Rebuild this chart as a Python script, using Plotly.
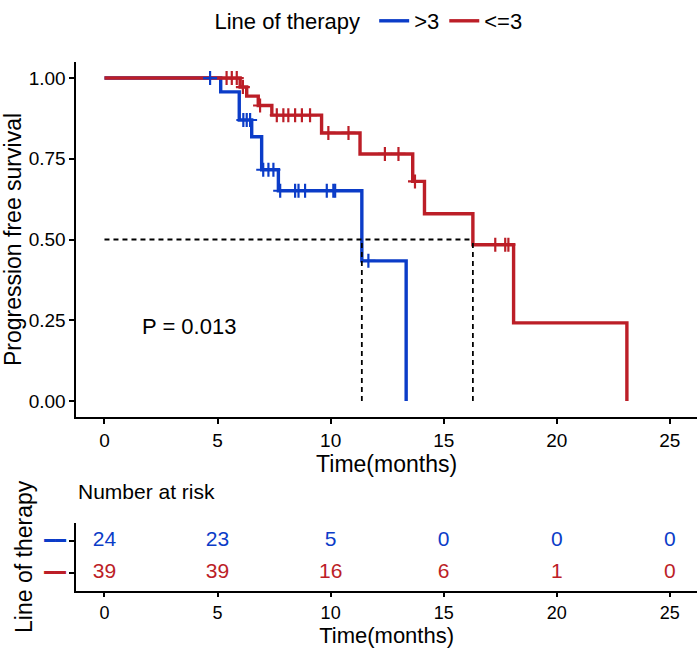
import numpy as np
import plotly.graph_objects as go

# ---------------- data ----------------
group_names = [">3", "<=3"]
group_colors = ["#0B3CC8", "#BC1E27"]

blue_step_time = [0, 5.14, 5.96, 6.51, 6.95, 7.69, 11.38, 13.34]
blue_step_surv = [1.0, 0.957, 0.870, 0.818, 0.716, 0.651, 0.434, 0.0]
blue_censor_time = [4.67, 6.14, 6.29, 6.44, 7.02, 7.25, 7.47, 7.77, 8.43,
                    8.58, 8.87, 9.83, 10.12, 10.2, 11.67]

red_step_time = [0, 6.0, 6.29, 6.8, 7.4, 9.6, 11.3, 13.63, 14.15, 16.29, 18.09, 23.1]
red_step_surv = [1.0, 0.972, 0.944, 0.915, 0.885, 0.830, 0.765, 0.680, 0.580,
                 0.484, 0.242, 0.0]
red_censor_time = [5.4, 5.63, 5.85, 6.12, 6.88, 7.62, 7.91, 8.13, 8.43, 8.73,
                   9.09, 9.9, 10.79, 12.4, 13.0, 13.73, 17.28, 17.72, 17.86]

median_time = [11.38, 16.29]
median_level = 0.5

risk_time = [0, 5, 10, 15, 20, 25]
blue_risk = [24, 23, 5, 0, 0, 0]
red_risk = [39, 39, 16, 6, 1, 0]

y_ticks = [0, 0.25, 0.5, 0.75, 1.0]
p_text = "P = 0.013"
p_pos = (3.72, 0.23)

FONT = "Liberation Sans, Arial, sans-serif"

# ---------------- figure ----------------
fig = go.Figure()

def censor_y(step_t, step_s, ct):
    idx = np.searchsorted(np.array(step_t), np.array(ct), side="right") - 1
    return list(np.array(step_s)[idx])

groups = [
    (blue_step_time, blue_step_surv, blue_censor_time),
    (red_step_time, red_step_surv, red_censor_time),
]

for (st, ss, ct), name, col in zip(groups, group_names, group_colors):
    fig.add_trace(go.Scatter(
        x=st, y=ss, mode="lines", line=dict(color=col, width=3.4, shape="hv"),
        name=name, legendgroup=name, showlegend=True, xaxis="x", yaxis="y",
        hoverinfo="skip"))

for (st, ss, ct), name, col in zip(groups, group_names, group_colors):
    fig.add_trace(go.Scatter(
        x=ct, y=censor_y(st, ss, ct), mode="markers",
        marker=dict(symbol="cross-thin", size=10, line=dict(color=col, width=2.2)),
        showlegend=False, legendgroup=name, xaxis="x", yaxis="y",
        hoverinfo="skip"))

# median dashed lines
mx, my = [0, max(median_time), None], [median_level, median_level, None]
for m in median_time:
    mx += [m, m, None]
    my += [0, median_level, None]
fig.add_trace(go.Scatter(
    x=mx, y=my, mode="lines", line=dict(color="black", width=1.8, dash="5px,4px"),
    showlegend=False, xaxis="x", yaxis="y", hoverinfo="skip"))

# risk table
for risk, yv, col in [(blue_risk, 2, group_colors[0]), (red_risk, 1, group_colors[1])]:
    fig.add_trace(go.Scatter(
        x=risk_time, y=[yv] * len(risk_time), mode="text",
        text=[str(v) for v in risk], textfont=dict(color=col, size=21, family=FONT),
        textposition="middle center", showlegend=False, xaxis="x2", yaxis="y2",
        hoverinfo="skip"))

x_dom = [76.2 / 697, 1.0]
x_rng = [-1.25, 26.2]
axis_common = dict(showline=True, linecolor="black", linewidth=1.5, ticks="outside",
                   ticklen=5, tickwidth=1.5, tickcolor="black", showgrid=False,
                   zeroline=False)
tick_font = dict(size=19, color="black", family=FONT)

fig.update_layout(
    width=697, height=649, margin=dict(l=0, r=0, t=0, b=0),
    paper_bgcolor="white", plot_bgcolor="white",
    font=dict(family=FONT, color="black"),
    xaxis=dict(domain=x_dom, range=x_rng, anchor="y", tickvals=risk_time,
               tickfont=tick_font,
               title=dict(text="Time(months)", font=dict(size=23), standoff=4),
               **axis_common),
    yaxis=dict(domain=[1 - 415 / 649, 1 - 56.4 / 649], range=[-0.05, 1.05], anchor="x",
               tickvals=y_ticks, tickformat=".2f", tickfont=tick_font,
               title=dict(text="Progression free survival", font=dict(size=23), standoff=4),
               **axis_common),
    xaxis2=dict(domain=x_dom, range=x_rng, anchor="y2", tickvals=risk_time,
                tickfont=dict(size=18, color="black", family=FONT),
                title=dict(text="Time(months)", font=dict(size=22), standoff=2),
                **axis_common),
    yaxis2=dict(domain=[1 - 590 / 649, 1 - 522 / 649], range=[0.4375, 2.5625], anchor="x2",
                tickvals=[2, 1],
                ticktext=[f'<span style="color:{group_colors[0]}">━━</span>',
                          f'<span style="color:{group_colors[1]}">━━</span>'],
                tickfont=dict(size=18, family="DejaVu Sans Mono"),
                title=dict(text="Line of therapy", font=dict(size=23), standoff=4),
                **axis_common),
    legend=dict(orientation="h", x=370 / 697, xanchor="center", y=1 - 15 / 649,
                yanchor="middle", font=dict(size=22, family=FONT),
                title=dict(text="Line of therapy ", font=dict(size=22, family=FONT)),
                itemwidth=30, bgcolor="rgba(0,0,0,0)", tracegroupgap=0),
    annotations=[
        dict(text="Number at risk", x=76 / 697, y=1 - 490 / 649, xref="paper", yref="paper",
             xanchor="left", yanchor="middle", showarrow=False, font=dict(size=21)),
        dict(text=p_text, x=p_pos[0], y=p_pos[1], xref="x", yref="y", xanchor="center",
             yanchor="middle", showarrow=False, font=dict(size=22)),
    ],
)

fig.write_html("out.html")
